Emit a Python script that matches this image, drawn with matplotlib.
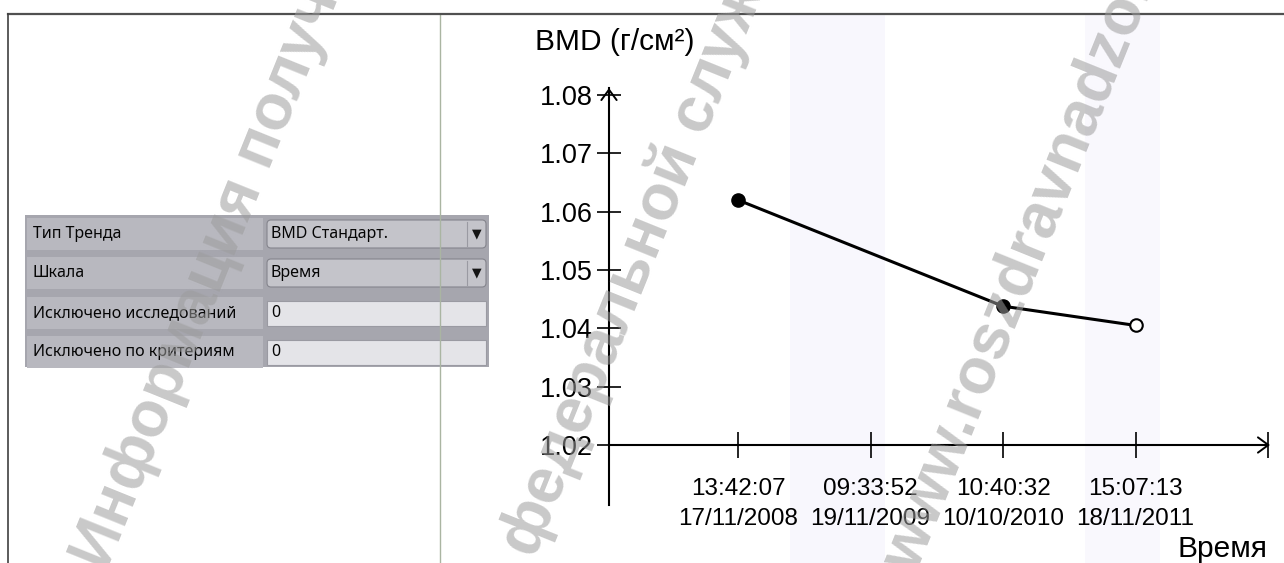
import numpy as np
import matplotlib.pyplot as plt
from matplotlib.patches import Rectangle, FancyBboxPatch

# Data
scan_times = ['13:42:07', '09:33:52', '10:40:32', '15:07:13']
scan_dates = ['17/11/2008', '19/11/2009', '10/10/2010', '18/11/2011']
bmd = [1.062, np.nan, 1.0438, 1.0405]   # 2009 scan has no point on the trend
y_ticks = [1.02, 1.03, 1.04, 1.05, 1.06, 1.07, 1.08]

form_labels = ['Тип Тренда', 'Шкала', 'Исключено исследований', 'Исключено по критериям']
form_values = ['BMD Стандарт.', 'Время', '0', '0']
form_dropdown = [True, True, False, False]

watermarks = ['Информация получена', 'федеральной службы', 'www.roszdravnadzor.ru']

W, H = 1284, 563
fig = plt.figure(figsize=(W / 100, H / 100), dpi=100)

# background layer in pixel coordinates (frame, scan artefacts, settings form)
bg = fig.add_axes([0, 0, 1, 1])
bg.set_xlim(0, W)
bg.set_ylim(H, 0)
bg.axis('off')

bg.add_patch(Rectangle((790, 15), 95, H, fc='#f8f7fd', ec='none'))
bg.add_patch(Rectangle((1085, 15), 75, H, fc='#f9f8fd', ec='none'))
bg.plot([440, 440], [15, H], color='#aab5a2', lw=1.0)
bg.plot([8, W], [14, 14], color='#505050', lw=1.6)
bg.plot([8, 8], [14, H], color='#404040', lw=1.2)

# settings form
bg.add_patch(Rectangle((25, 215), 464, 152, fc='#a6a6ae', ec='none'))
row_y = [234, 273, 313, 352]
for yc, lab, val, dd in zip(row_y, form_labels, form_values, form_dropdown):
    bg.add_patch(Rectangle((27, yc - 16), 236, 32, fc='#b8b8bf', ec='none'))
    if dd:
        bg.add_patch(FancyBboxPatch((267, yc - 14), 219, 28,
                                    boxstyle='round,pad=0,rounding_size=4',
                                    fc='#c4c4ca', ec='#85858d', lw=0.8))
        bg.plot([467, 467], [yc - 12, yc + 12], color='#9a9aa2', lw=0.8)
        bg.text(477, yc, '▼', ha='center', va='center', fontsize=9,
                family=['DejaVu Sans'], color='#151515')
    else:
        bg.add_patch(Rectangle((267, yc - 12), 219, 25, fc='#e4e4e8',
                               ec='#9a9aa2', lw=0.8))
    bg.text(33, yc, lab, ha='left', va='center', fontsize=11.5,
            family=['Noto Sans', 'DejaVu Sans'], color='#050505')
    bg.text(271, yc, val, ha='left', va='center', fontsize=11.5,
            family=['Noto Sans', 'DejaVu Sans'], color='#050505')

# trend chart
plt.rcParams['font.family'] = ['Liberation Sans', 'DejaVu Sans']
x_px0, x_px1, y_px0, y_px1 = 609, 1270, 505, 88
ax = fig.add_axes([x_px0 / W, 1 - y_px0 / H, (x_px1 - x_px0) / W, (y_px0 - y_px1) / H])
ax.patch.set_alpha(0)
x_unit = 132.5          # px per category
y_unit = 5833.0         # px per g/cm2
x_lo = -(738 - x_px0) / x_unit
x_hi = 4 + (x_px1 - 1268) / x_unit
y_lo = 1.02 - (y_px0 - 445) / y_unit
y_hi = 1.02 + (445 - y_px1) / y_unit
ax.set_xlim(x_lo, x_hi)
ax.set_ylim(y_lo, y_hi)

for s in ['top', 'right']:
    ax.spines[s].set_visible(False)
ax.spines['left'].set_linewidth(1.5)
ax.spines['bottom'].set_linewidth(1.5)
ax.spines['bottom'].set_position(('data', 1.02))
ax.spines['bottom'].set_bounds(x_lo, 4)

x = np.arange(len(bmd))
y = np.array(bmd)
ok = ~np.isnan(y)
ax.plot(x[ok], y[ok], color='black', lw=2.2, zorder=3)
ax.plot(x[ok][:-1], y[ok][:-1], 'o', color='black', ms=9.5, zorder=4)
ax.plot(x[ok][-1:], y[ok][-1:], 'o', mfc='white', mec='black', mew=1.5, ms=9, zorder=4)

ax.set_xticks(list(x) + [4])
ax.set_xticklabels([f'{t}\n{d}' for t, d in zip(scan_times, scan_dates)] + [''],
                   linespacing=1.5)
ax.set_yticks(y_ticks)
ax.set_yticklabels([f'{v:.2f}' for v in y_ticks])
ax.tick_params(axis='x', direction='inout', length=19, width=1.2, pad=14, labelsize=17.5)
ax.tick_params(axis='y', direction='inout', length=17, width=1.2, pad=3, labelsize=19.5)

arrow = dict(arrowstyle='->,head_length=0.75,head_width=0.55', lw=1.4, color='black',
             shrinkA=0, shrinkB=0, mutation_scale=10)
ax.annotate('', xy=(x_lo, y_hi), xytext=(x_lo, 1.07), arrowprops=arrow)
ax.annotate('', xy=(x_hi, 1.02), xytext=(3.5, 1.02), arrowprops=arrow)

fig.text(535 / W, 1 - 42 / H, 'BMD (г/см²)', ha='left', va='center', fontsize=21.5)
fig.text(1268 / W, 1 - 549 / H, 'Время', ha='right', va='center', fontsize=21.5)

# watermark
wm_pos = [(91, 566), (518, 552), (900, 568)]
for (wx, wy), s in zip(wm_pos, watermarks):
    fig.text(wx, wy, s, transform=bg.transData, rotation=68, rotation_mode='anchor',
             ha='left', va='center', fontsize=46, fontweight='bold',
             color='#9c9c9c', alpha=0.55, zorder=10)

fig.savefig('out.png', dpi=100)
